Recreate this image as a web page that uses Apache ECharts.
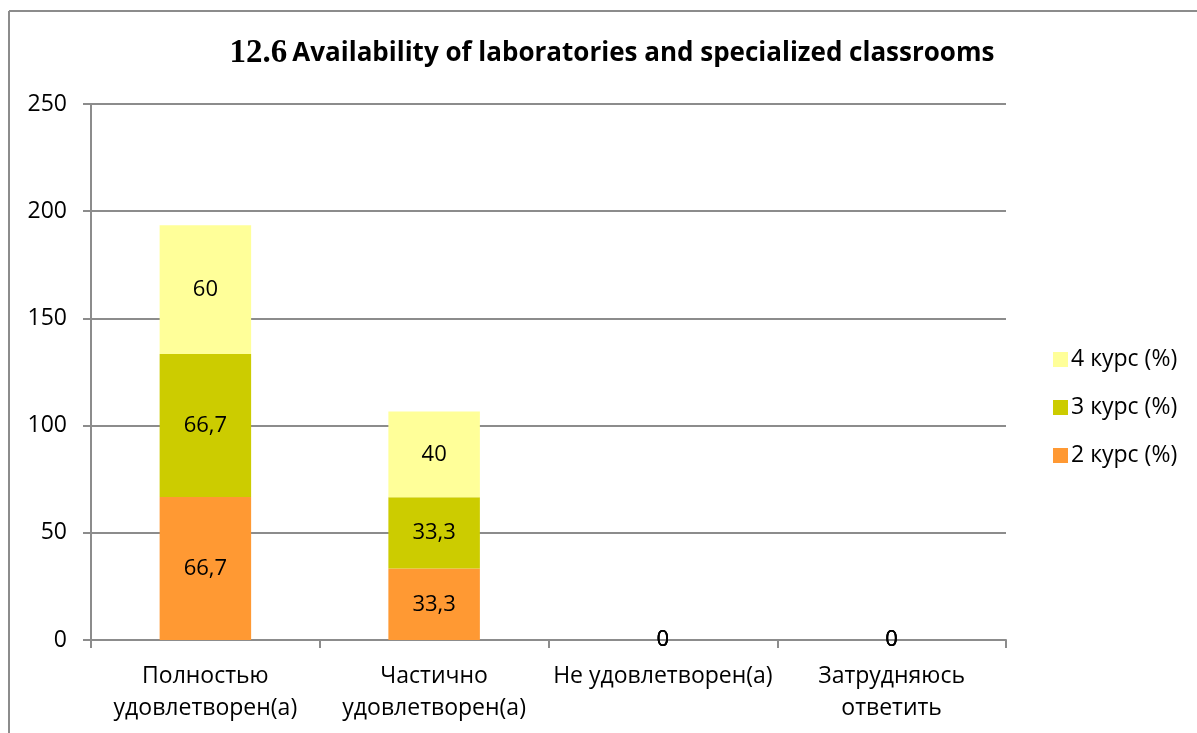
<!DOCTYPE html>
<html>
<head>
<meta charset="utf-8">
<script src="https://cdn.jsdelivr.net/npm/echarts@6/dist/echarts.min.js"></script>
<style>
  html, body { margin: 0; padding: 0; background: #fff; }
  #chart { width: 1197px; height: 733px; }
</style>
</head>
<body>
<div id="chart"></div>
<script>
const categories = ['Полностью\nудовлетворен(а)', 'Частично\nудовлетворен(а)', 'Не удовлетворен(а)', 'Затрудняюсь\nответить']
const kurs2 = [66.7, 33.3, 0, 0]
const kurs3 = [66.7, 33.3, 0, 0]
const kurs4 = [60, 40, 0, 0]
const yTicks = [0, 50, 100, 150, 200, 250]

const font = '"Open Sans", sans-serif'
const gray = '#8c8c8c'

const labelStyle = {
  show: true,
  position: 'inside',
  color: '#000',
  fontSize: 22,
  fontFamily: font,
  formatter: p => String(p.value).replace('.', ','),
}

const mkSeries = (name, data, color) => ({
  name,
  type: 'bar',
  stack: 'total',
  barWidth: '40%',
  data,
  itemStyle: { color },
  label: labelStyle,
})

const chart = echarts.init(document.getElementById('chart'))
chart.setOption({
  animation: false,
  title: {
    text: '{a|12.6} {b|Availability of laboratories and specialized classrooms}',
    left: 607,
    textAlign: 'center',
    top: 32,
    textStyle: {
      rich: {
        a: { fontFamily: '"Liberation Serif", serif', fontWeight: 'bold', fontSize: 33, color: '#000' },
        b: { fontFamily: font, fontWeight: 'bold', fontSize: 26, color: '#000' },
      },
    },
  },
  grid: { left: 91, right: 191, top: 104, bottom: 93 },
  legend: {
    orient: 'vertical',
    left: 1048,
    top: 343,
    itemWidth: 15,
    itemHeight: 15,
    itemGap: 25,
    icon: 'rect',
    data: ['4 курс (%)', '3 курс (%)', '2 курс (%)'],
    textStyle: { fontSize: 23, fontFamily: font, color: '#000', padding: [0, 0, 0, -2] },
  },
  xAxis: {
    type: 'category',
    data: categories,
    axisLine: { lineStyle: { color: gray, width: 2 } },
    axisTick: { show: true, length: 8, lineStyle: { color: gray, width: 2 } },
    axisLabel: { fontSize: 23, fontFamily: font, color: '#000', lineHeight: 32, margin: 20, interval: 0 },
  },
  yAxis: {
    type: 'value',
    min: yTicks[0],
    max: yTicks[yTicks.length - 1],
    interval: 50,
    axisLine: { show: true, lineStyle: { color: gray, width: 2 } },
    axisTick: { show: true, length: 8, lineStyle: { color: gray, width: 2 } },
    axisLabel: { fontSize: 23, fontFamily: font, color: '#000', margin: 24 },
    splitLine: { lineStyle: { color: gray, width: 2 } },
  },
  graphic: [
    { type: 'line', shape: { x1: 9, y1: 11, x2: 1197, y2: 11 }, style: { stroke: gray, lineWidth: 2 } },
    { type: 'line', shape: { x1: 9, y1: 11, x2: 9, y2: 733 }, style: { stroke: gray, lineWidth: 2 } },
  ],
  series: [
    mkSeries('2 курс (%)', kurs2, '#ff9933'),
    mkSeries('3 курс (%)', kurs3, '#cccc00'),
    mkSeries('4 курс (%)', kurs4, '#ffff99'),
  ],
})
</script>
</body>
</html>
